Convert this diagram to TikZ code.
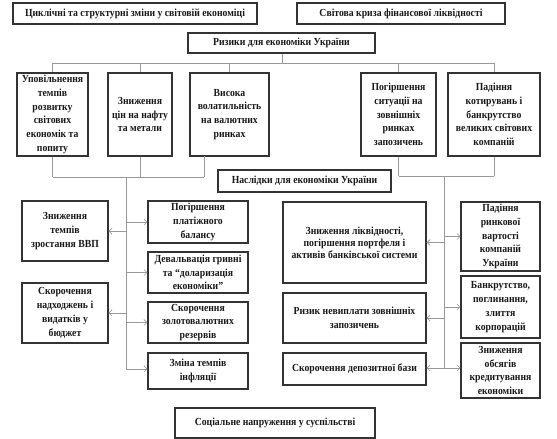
\documentclass[tikz,border=0pt]{standalone}
\usepackage{fontspec}
\setmainfont[FakeStretch=0.9]{Liberation Serif}
\usetikzlibrary{arrows.meta}
\begin{document}
\begin{tikzpicture}[x=1pt,y=-1pt,
  box/.style={draw=black!80, line width=1.3pt, fill=white, align=center,
    inner sep=0pt, text=black!90,
    font=\fontsize{10.8}{13.8}\selectfont\bfseries},
  conn/.style={draw=black!40, line width=0.6pt},
  arr/.style={conn, -{Straight Barb[length=3pt,width=6pt]}}
]
\useasboundingbox (0,0) rectangle (557,439);
% top
\node[box, minimum width=244pt, minimum height=21pt] (A) at (135,13.5) {Циклічні та структурні зміни у світовій економіці};
\node[box, minimum width=208pt, minimum height=21pt] (B) at (401,13.5) {Світова криза фінансової ліквідності};
\node[box, minimum width=187pt, minimum height=20pt] (C) at (281.5,43) {Ризики для економіки України};
% risks row
\node[box, minimum width=71pt, minimum height=83pt] (T1) at (52.5,114.5) {Уповільнення\\темпів\\розвитку\\світових\\економік та\\попиту};
\node[box, minimum width=64pt, minimum height=83pt] (T2) at (140,114.5) {Зниження\\цін на нафту\\та метали};
\node[box, minimum width=79pt, minimum height=83pt] (T3) at (229.5,114.5) {Висока\\волатильність\\на валютних\\ринках};
\node[box, minimum width=75pt, minimum height=83pt] (T4) at (398.5,114.5) {Погіршення\\ситуації на\\зовнішніх\\ринках\\запозичень};
\node[box, minimum width=92pt, minimum height=83pt] (T5) at (494,114.5) {Падіння\\котирувань і\\банкрутство\\великих світових\\компаній};
% consequences
\node[box, minimum width=173pt, minimum height=22pt] (D) at (304.5,181) {Наслідки для економіки України};
\node[box, minimum width=86pt, minimum height=60pt] (L1) at (65,231) {Зниження\\темпів\\зростання ВВП};
\node[box, minimum width=86pt, minimum height=60pt] (L2) at (65,313) {Скорочення\\надходжень і\\видатків у\\бюджет};
\node[box, minimum width=100pt, minimum height=42pt] (M1) at (198,222) {Погіршення\\платіжного\\балансу};
\node[box, minimum width=100pt, minimum height=41pt] (M2) at (198,272.5) {Девальвація гривні\\та “доларизація\\економіки”};
\node[box, minimum width=100pt, minimum height=41pt] (M3) at (198,322.5) {Скорочення\\золотовалютних\\резервів};
\node[box, minimum width=100pt, minimum height=36pt] (M4) at (198,371) {Зміна темпів\\інфляції};
\node[box, minimum width=143pt, minimum height=81pt, font=\fontsize{10.8}{12}\selectfont\bfseries] (N1) at (354.5,242.5) {Зниження ліквідності,\\погіршення портфеля і\\активів банківської системи};
\node[box, minimum width=143pt, minimum height=50pt] (N2) at (354.5,318) {Ризик невиплати зовнішніх\\запозичень};
\node[box, minimum width=143pt, minimum height=32pt] (N3) at (354.5,369) {Скорочення депозитної бази};
\node[box, minimum width=79pt, minimum height=69pt] (P1) at (500.5,236.5) {Падіння\\ринкової\\вартості\\компаній\\України};
\node[box, minimum width=79pt, minimum height=62pt] (P2) at (500.5,307) {Банкрутство,\\поглинання,\\злиття\\корпорацій};
\node[box, minimum width=79pt, minimum height=55pt] (P3) at (500.5,370.5) {Зниження\\обсягів\\кредитування\\економіки};
\node[box, minimum width=200pt, minimum height=30pt] (S) at (275,423) {Соціальне напруження у суспільстві};
% connectors top
\coordinate (hc) at (282,63);
\draw[conn] (C.south -| hc) -- (hc);
\draw[conn] (T1.north |- hc) -- (T5.north |- hc);
\foreach \t in {T1,T2,T3,T4,T5} \draw[conn] (\t.north |- hc) -- (\t.north);
% left group
\coordinate (lh) at (126,177);
\coordinate (t3d) at (204,156);
\draw[conn] (T1.south) -- (T1.south |- lh);
\draw[conn] (T2.south) -- (T2.south |- lh);
\draw[conn] (t3d) -- (t3d |- lh);
\draw[conn] (T1.south |- lh) -- (t3d |- lh);
\coordinate (lb) at (126,369);
\draw[conn] (lh) -- (lb);
\draw[arr] (lh |- L1.east) -- (L1.east);
\draw[arr] (lh |- L2.east) -- (L2.east);
\draw[arr] (lh |- M1.west) -- (M1.west);
\draw[arr] (lh |- M2.west) -- (M2.west);
\draw[arr] (lh |- M3.west) -- (M3.west);
\draw[arr] (lb) -- (lb -| M4.west);
% right group
\coordinate (rh) at (444,176);
\draw[conn] (T4.south) -- (T4.south |- rh);
\draw[conn] (T5.south) -- (T5.south |- rh);
\draw[conn] (T4.south |- rh) -- (T5.south |- rh);
\coordinate (rb) at (444,368);
\draw[conn] (rh) -- (rb);
\draw[arr] (rh |- N1.east) -- (N1.east);
\draw[arr] (rh |- N2.east) -- (N2.east);
\draw[arr] (rb) -- (rb -| N3.east);
\draw[arr] (rh |- P1.west) -- (P1.west);
\draw[arr] (rh |- P2.west) -- (P2.west);
\draw[arr] (rb) -- (rb -| P3.west);
\end{tikzpicture}
\end{document}
